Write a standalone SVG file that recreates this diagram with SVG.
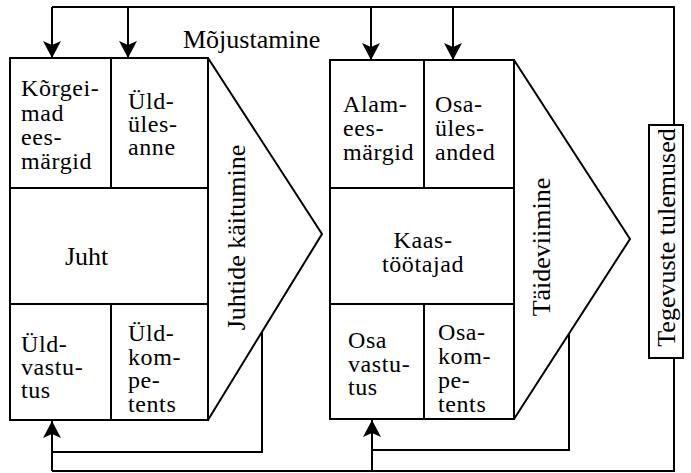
<svg xmlns="http://www.w3.org/2000/svg" width="691" height="473" viewBox="0 0 691 473">
<defs>
<marker id="ah" markerWidth="22" markerHeight="18" viewBox="0 0 22 18" refX="17" refY="9" orient="auto" markerUnits="userSpaceOnUse">
<path d="M0,0 L17,9 L0,18 L4,9 Z" fill="#000"/>
</marker>
</defs>
<rect width="691" height="473" fill="#fff"/>
<g id="leader">
<g fill="none" stroke="#000" stroke-width="2">
<rect x="10" y="58" width="198" height="362"/>
<line x1="10" y1="188" x2="208" y2="188"/>
<line x1="10" y1="304" x2="208" y2="304"/>
<line x1="111" y1="58" x2="111" y2="188"/>
<line x1="111" y1="304" x2="111" y2="420"/>
<polyline points="208,58 322,234 208,420"/>
</g>
<g font-family="Liberation Serif" font-size="24" fill="#000">
<text letter-spacing="0.6"><tspan x="21" y="96">Kõrgei-</tspan><tspan x="21" y="121">mad</tspan><tspan x="21" y="145">ees-</tspan><tspan x="21" y="169">märgid</tspan></text>
<text letter-spacing="0.6"><tspan x="128" y="109">Üld-</tspan><tspan x="128" y="132">üles-</tspan><tspan x="128" y="155">anne</tspan></text>
<text font-size="26" x="65" y="265">Juht</text>
<text letter-spacing="0.6"><tspan x="21" y="352">Üld-</tspan><tspan x="21" y="375">vastu-</tspan><tspan x="21" y="398">tus</tspan></text>
<text letter-spacing="0.6"><tspan x="128" y="341">Üld-</tspan><tspan x="128" y="365">kom-</tspan><tspan x="128" y="388">pe-</tspan><tspan x="128" y="412">tents</tspan></text>
<text font-size="26" text-anchor="middle" transform="translate(245,237.5) rotate(-90)">Juhtide käitumine</text>
</g>
</g>
<g id="workers">
<g fill="none" stroke="#000" stroke-width="2">
<rect x="330" y="60" width="184" height="359"/>
<line x1="330" y1="188" x2="514" y2="188"/>
<line x1="330" y1="304" x2="514" y2="304"/>
<line x1="424" y1="60" x2="424" y2="188"/>
<line x1="424" y1="304" x2="424" y2="419"/>
<polyline points="514,60 630,239 514,419"/>
</g>
<g font-family="Liberation Serif" font-size="24" fill="#000">
<text letter-spacing="0.6"><tspan x="343" y="112">Alam-</tspan><tspan x="343" y="136">ees-</tspan><tspan x="343" y="160">märgid</tspan></text>
<text letter-spacing="0.6"><tspan x="435" y="112">Osa-</tspan><tspan x="435" y="136">üles-</tspan><tspan x="435" y="160">anded</tspan></text>
<text letter-spacing="0.6" text-anchor="middle"><tspan x="423" y="248">Kaas-</tspan><tspan x="423" y="272">töötajad</tspan></text>
<text letter-spacing="0.6"><tspan x="348" y="348">Osa</tspan><tspan x="348" y="372">vastu-</tspan><tspan x="348" y="395">tus</tspan></text>
<text letter-spacing="0.6"><tspan x="438" y="340">Osa-</tspan><tspan x="438" y="364">kom-</tspan><tspan x="438" y="388">pe-</tspan><tspan x="438" y="412">tents</tspan></text>
<text font-size="26" text-anchor="middle" transform="translate(550,247) rotate(-90)">Täideviimine</text>
</g>
</g>
<g id="results">
<rect x="649" y="125" width="34" height="233" fill="none" stroke="#000" stroke-width="2"/>
<text font-family="Liberation Serif" font-size="26" fill="#000" text-anchor="middle" transform="translate(675,237.5) rotate(-90)">Tegevuste tulemused</text>
</g>
<g id="connectors">
<g fill="none" stroke="#000" stroke-width="2">
<polyline points="674,125 674,7 52,7"/>
<line x1="52" y1="7" x2="52" y2="58" marker-end="url(#ah)"/>
<line x1="128" y1="7" x2="128" y2="58" marker-end="url(#ah)"/>
<line x1="371" y1="7" x2="371" y2="60" marker-end="url(#ah)"/>
<line x1="453" y1="7" x2="453" y2="60" marker-end="url(#ah)"/>
<polyline points="674,358 674,471 52,471"/>
<polyline points="262,332 262,452 52,452"/>
<polyline points="569,334 569,450 372,450"/>
<line x1="52" y1="471" x2="52" y2="421" marker-end="url(#ah)"/>
<line x1="372" y1="471" x2="372" y2="420" marker-end="url(#ah)"/>
</g>
<text font-family="Liberation Serif" font-size="26" fill="#000" x="183" y="48">Mõjustamine</text>
</g>
</svg>
